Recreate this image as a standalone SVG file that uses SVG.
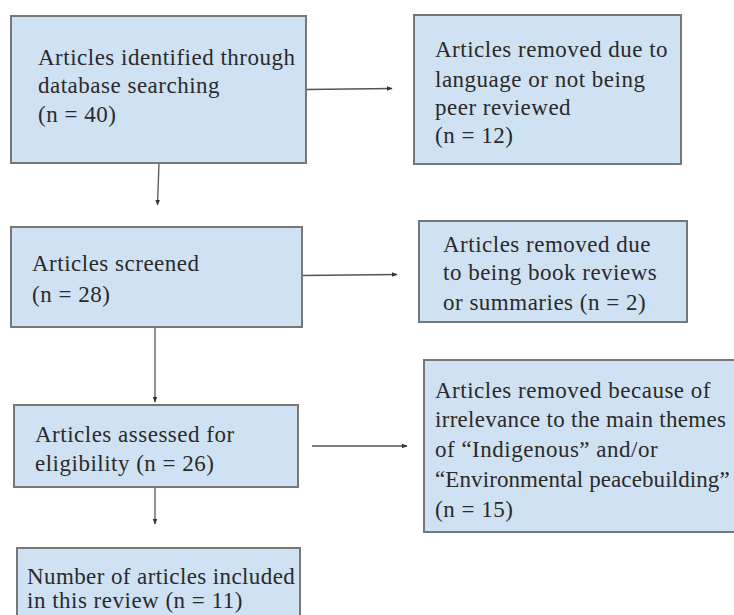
<svg xmlns="http://www.w3.org/2000/svg" width="734" height="615" viewBox="0 0 734 615">
<defs>
<style>
.box{fill:#cfe2f3;stroke:#777;stroke-width:2}
.c{stroke:#555;stroke-width:1.3;fill:none;marker-end:url(#ah)}
</style>
<marker id="ah" viewBox="0 0 10 10" refX="9" refY="5" markerWidth="6" markerHeight="6" markerUnits="userSpaceOnUse" orient="auto">
<path d="M0,1 L10,5 L0,9 z" fill="#333"/>
</marker>
</defs>
<rect width="734" height="615" fill="#fff"/>
<g id="connectors">
<line class="c" x1="306" y1="89.5" x2="392" y2="88.5"/>
<line class="c" x1="159" y1="163" x2="157.5" y2="205"/>
<line class="c" x1="302" y1="275.5" x2="397" y2="274.5"/>
<line class="c" x1="155" y1="327" x2="155" y2="402"/>
<line class="c" x1="312" y1="446" x2="407" y2="446"/>
<line class="c" x1="155" y1="487" x2="155" y2="524"/>
</g>
<g font-family="Liberation Serif, Times New Roman, Tinos, Times, DejaVu Serif, Noto Serif, serif" font-size="23" letter-spacing="0.5" fill="#2a2a2a">
<g id="n1">
<rect class="box" x="11" y="16" width="295" height="147"/>
<text x="38" y="65">Articles  identified through</text>
<text x="38" y="93">database searching</text>
<text x="38" y="122">(n = 40)</text>
</g>
<g id="n2">
<rect class="box" x="414" y="15" width="267" height="149"/>
<text x="435" y="57">Articles removed due to</text>
<text x="435" y="87">language or not being</text>
<text x="435" y="115">peer reviewed</text>
<text x="435" y="143">(n = 12)</text>
</g>
<g id="n3">
<rect class="box" x="11" y="227" width="291" height="100"/>
<text x="32" y="271">Articles screened</text>
<text x="32" y="302">(n = 28)</text>
</g>
<g id="n4">
<rect class="box" x="419" y="221" width="268" height="101"/>
<text x="443" y="252">Articles removed due</text>
<text x="443" y="280">to being book reviews</text>
<text x="443" y="310">or summaries (n = 2)</text>
</g>
<g id="n5">
<rect class="box" x="14" y="405" width="284" height="82"/>
<text x="35" y="442">Articles assessed for</text>
<text x="35" y="471">eligibility (n = 26)</text>
</g>
<g id="n6">
<rect class="box" x="424" y="360" width="320" height="172"/>
<text x="435" y="398">Articles removed because of</text>
<text x="435" y="427" letter-spacing="0.3">irrelevance to the main themes</text>
<text x="435" y="457">of “Indigenous” and/or</text>
<text x="435" y="487" letter-spacing="0.1">“Environmental peacebuilding”</text>
<text x="435" y="517">(n = 15)</text>
</g>
<g id="n7">
<rect class="box" x="17" y="548" width="283" height="80"/>
<text x="27" y="584" letter-spacing="0.4">Number of articles included</text>
<text x="27" y="608">in this review (n = 11)</text>
</g>
</g>
</svg>
